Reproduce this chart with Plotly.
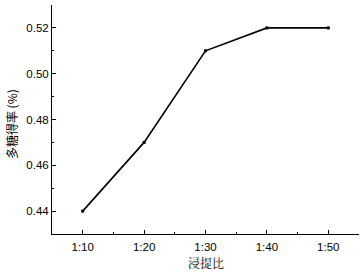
import plotly.graph_objects as go

categories = ["1:10", "1:20", "1:30", "1:40", "1:50"]
yield_pct = [0.44, 0.47, 0.51, 0.52, 0.52]
y_ticks = [0.44, 0.46, 0.48, 0.50, 0.52]
x_title = "浸提比"
y_title = "多糖得率 (%)"

xpos = list(range(1, len(categories) + 1))

fig = go.Figure()
fig.add_trace(go.Scatter(
    x=xpos, y=yield_pct, mode="lines+markers",
    line=dict(color="black", width=1.6),
    marker=dict(symbol="square", size=3, color="black"),
    showlegend=False,
))

tickfont = dict(family="Liberation Sans, Arial", size=11.5, color="black")
fig.update_layout(
    width=363, height=274,
    margin=dict(l=52, r=4, t=5, b=40),
    plot_bgcolor="white", paper_bgcolor="white",
    xaxis=dict(
        range=[0.5, 5.5], tickvals=xpos, ticktext=categories,
        showline=True, linecolor="black", linewidth=1,
        ticks="inside", ticklen=4, tickcolor="black", tickwidth=1,
        minor=dict(tick0=0.5, dtick=1, ticks="inside", ticklen=2, tickcolor="black"),
        showgrid=False, zeroline=False, tickfont=tickfont,
        ticklabelstandoff=2,
    ),
    yaxis=dict(
        range=[0.43, 0.53], tickvals=y_ticks, ticktext=[f"{v:.2f}" for v in y_ticks],
        showline=True, linecolor="black", linewidth=1,
        ticks="inside", ticklen=4, tickcolor="black", tickwidth=1,
        minor=dict(tick0=0.43, dtick=0.01, ticks="inside", ticklen=2, tickcolor="black"),
        showgrid=False, zeroline=False, tickfont=tickfont,
    ),
    annotations=[
        dict(text=x_title, xref="paper", yref="paper", x=0.5, y=0,
             xanchor="center", yanchor="middle", yshift=-28, showarrow=False,
             font=dict(family="Noto Serif CJK SC, Noto Sans CJK SC", size=12, color="black")),
        dict(text=y_title, xref="paper", yref="paper", x=0, y=0.48,
             xanchor="center", yanchor="middle", xshift=-41, textangle=-90, showarrow=False,
             font=dict(family="Noto Sans CJK SC, Liberation Sans", size=12, color="black")),
    ],
)

fig.write_html("out.html", config={"displayModeBar": False},
               post_script="document.body.style.margin='0';document.body.style.overflow='hidden';")
